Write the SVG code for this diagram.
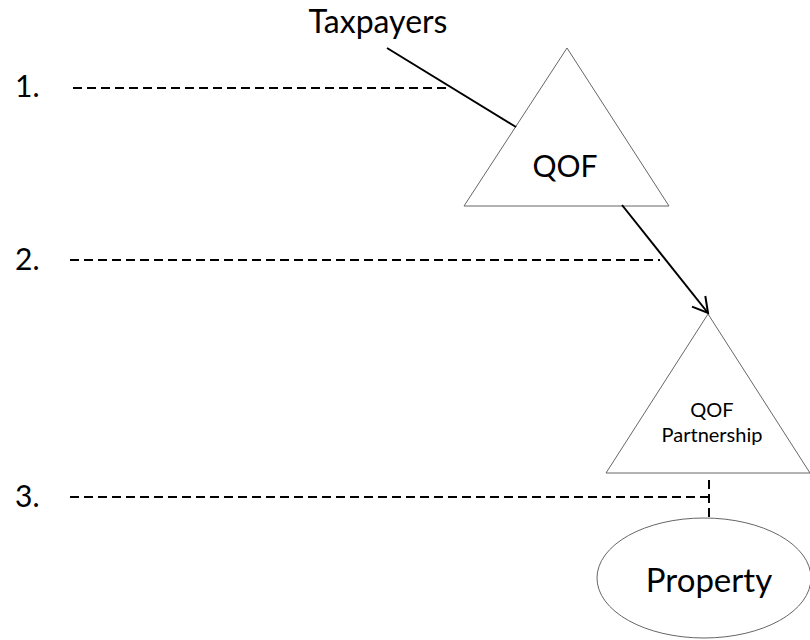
<svg xmlns="http://www.w3.org/2000/svg" width="810" height="640" viewBox="0 0 810 640">
  <style>
    text { font-family: Lato, "Liberation Sans", sans-serif; fill: #000; }
    .shape { fill: #fff; stroke: #666; stroke-width: 1; }
    .dash { stroke: #000; stroke-width: 2; stroke-dasharray: 9 5; fill: none; }
    .solid { stroke: #000; stroke-width: 2; fill: none; }
  </style>
  <defs>
    <marker id="open" markerUnits="userSpaceOnUse" viewBox="-18 -11 20 22" markerWidth="20" markerHeight="22" refX="0" refY="0" orient="auto" overflow="visible">
      <path d="M-15,-8.5 L0,0 L-15,8.5" fill="none" stroke="#000" stroke-width="2"/>
    </marker>
  </defs>
  <rect width="810" height="640" fill="#fff"/>

  <g id="labels">
    <text x="15" y="97" font-size="30">1.</text>
    <text x="15" y="270" font-size="30">2.</text>
    <text x="15" y="507" font-size="30">3.</text>
  </g>

  <g id="taxpayers">
    <text x="378" y="33" font-size="32" text-anchor="middle">Taxpayers</text>
  </g>

  <g id="qof">
    <polygon class="shape" points="567,48 669,206 464,206"/>
    <text x="565" y="177" font-size="30" text-anchor="middle">QOF</text>
  </g>

  <g id="qof-partnership">
    <polygon class="shape" points="708,314 810,473 606,473"/>
    <text x="712" y="417" font-size="20" text-anchor="middle">QOF</text>
    <text x="712" y="442" font-size="20" text-anchor="middle">Partnership</text>
  </g>

  <g id="property">
    <ellipse class="shape" cx="704" cy="578" rx="107" ry="60"/>
    <text x="709" y="592" font-size="33" text-anchor="middle">Property</text>
  </g>

  <g id="connectors">
    <line class="dash" x1="73" y1="88" x2="450" y2="88"/>
    <line class="dash" x1="70" y1="260" x2="660" y2="260"/>
    <line class="dash" x1="70" y1="497" x2="709" y2="497"/>
    <line class="dash" x1="709" y1="480" x2="709" y2="518"/>
    <line class="solid" x1="387" y1="48" x2="516" y2="127"/>
    <line class="solid" x1="622" y1="205" x2="708" y2="313" marker-end="url(#open)"/>
  </g>
</svg>
